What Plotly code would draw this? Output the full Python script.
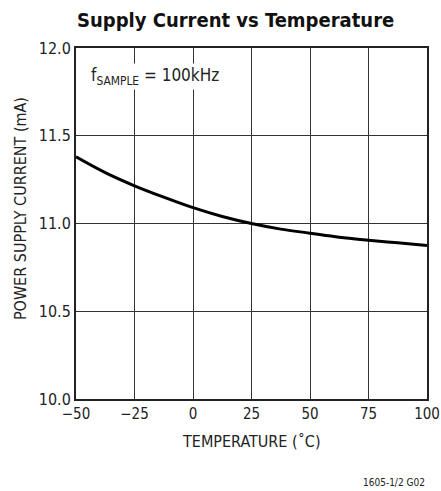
import plotly.graph_objects as go

temperature = [-50, -37.5, -25, -12.5, 0, 12.5, 25, 37.5, 50, 62.5, 75, 87.5, 100]
supply_current = [11.38, 11.29, 11.215, 11.15, 11.09, 11.04, 11.0, 10.968, 10.945, 10.922, 10.905, 10.89, 10.875]

x_ticks = [-50, -25, 0, 25, 50, 75, 100]
x_tick_labels = ["\u221250", "\u221225", "0", "25", "50", "75", "100"]
y_ticks = [10.0, 10.5, 11.0, 11.5, 12.0]
y_tick_labels = ["10.0", "10.5", "11.0", "11.5", "12.0"]

FONT = "DejaVu Sans Condensed, Liberation Sans Narrow, Arial Narrow, sans-serif"

fig = go.Figure()
fig.add_trace(go.Scatter(x=temperature, y=supply_current, mode="lines",
                         line=dict(color="black", width=3, shape="spline"),
                         showlegend=False, hoverinfo="skip"))

# plot area at page (76..427, 48..399); body margin removed below
fig.update_layout(
    width=441, height=491,
    margin=dict(l=76, r=14, t=48, b=92, autoexpand=False),
    paper_bgcolor="white", plot_bgcolor="white",
    font=dict(family=FONT, size=16, color="#222"),
    xaxis=dict(range=[-50, 100], tickvals=x_ticks, ticktext=x_tick_labels,
               showgrid=True, gridcolor="#333", gridwidth=1,
               showline=True, linecolor="#222", linewidth=2, mirror=True,
               zeroline=False, ticks="", tickfont=dict(size=15), automargin=False,
               ticklabeloverflow="allow"),
    yaxis=dict(range=[10.0, 12.0], tickvals=y_ticks, ticktext=y_tick_labels,
               showgrid=True, gridcolor="#333", gridwidth=1,
               showline=True, linecolor="#222", linewidth=2, mirror=True,
               zeroline=False, ticks="", tickfont=dict(size=16), automargin=False),
    annotations=[
        dict(text="<b>Supply Current vs Temperature</b>", xref="paper", yref="paper",
             x=0.453, y=1.0, yshift=28, showarrow=False, xanchor="center", yanchor="middle",
             font=dict(size=20, color="#111", family=FONT)),
        dict(text="POWER SUPPLY CURRENT (mA)", xref="paper", yref="paper",
             x=-0.1595, y=0.541, textangle=-90, showarrow=False,
             xanchor="center", yanchor="middle", font=dict(size=16, family=FONT)),
        dict(text="TEMPERATURE (\u02daC)", xref="paper", yref="paper",
             x=0.5, y=-0.1225, showarrow=False, xanchor="center", yanchor="middle",
             font=dict(size=16, family=FONT)),
        dict(text="f<sub>SAMPLE</sub> = 100kHz", xref="x", yref="y",
             x=-44.5, y=11.835, showarrow=False, xanchor="left", yanchor="middle",
             bgcolor="white", font=dict(size=17, family=FONT)),
        dict(text="1605-1/2 G02", xref="paper", yref="paper",
             x=1.0, y=-0.239, showarrow=False, xanchor="right", yanchor="middle",
             font=dict(size=10, family=FONT)),
    ],
)

fig.write_html(
    "out.html",
    config={"displayModeBar": False},
    post_script="document.body.style.margin='0';document.documentElement.style.overflow='hidden';",
)
